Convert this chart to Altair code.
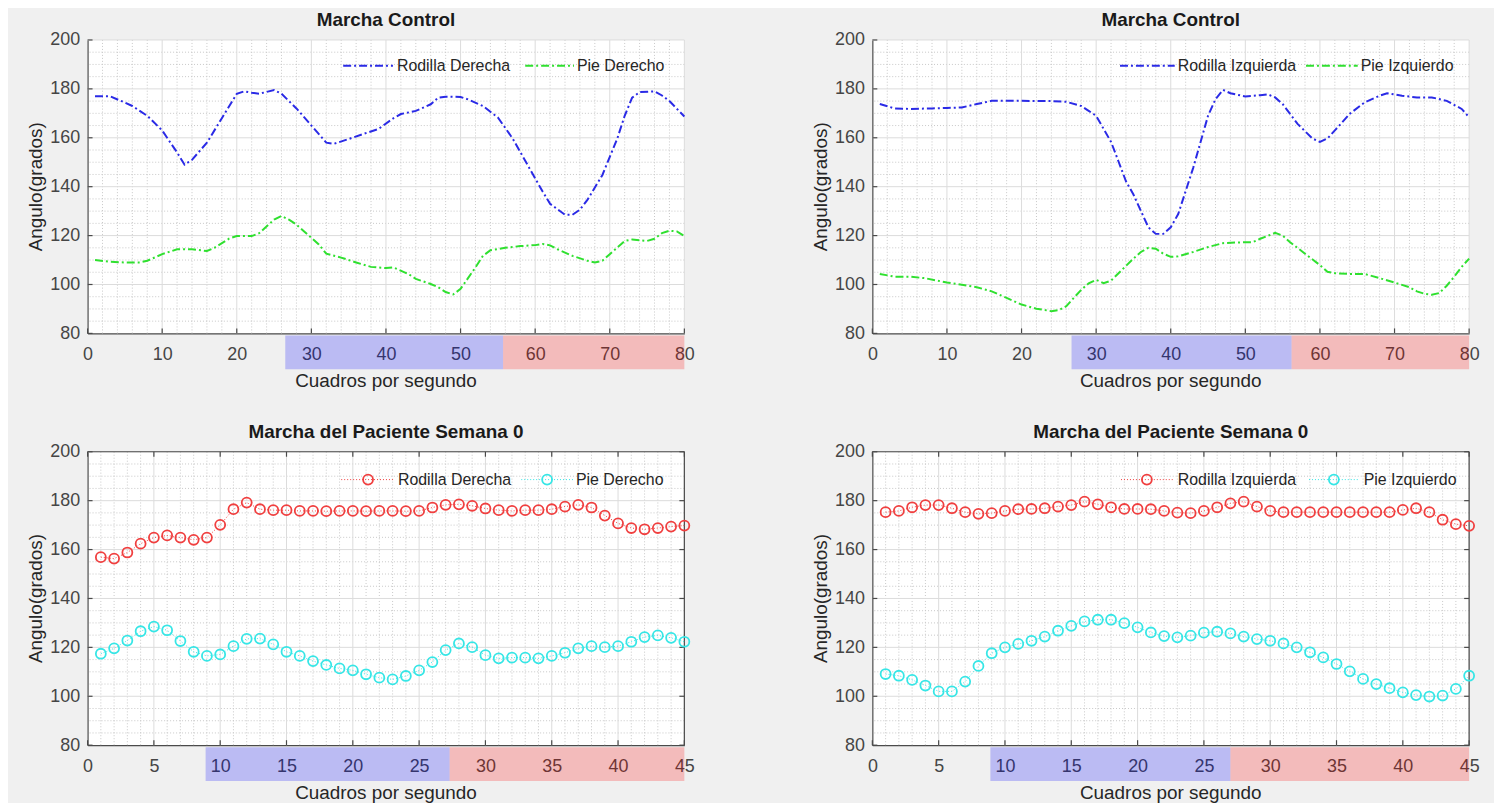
import altair as alt
import pandas as pd

# ---------------- data ----------------
TL_KNEE_X = [1, 3, 5, 6, 8, 10, 12, 13, 14, 16, 18, 20, 21, 22, 23, 25, 26, 28, 30, 32,
             33, 35, 37, 39, 41, 42, 44, 46, 47, 48, 50, 51, 53, 55, 56, 57, 59, 61, 62, 64,
             65, 66, 67, 69, 71, 72, 73, 74, 76, 77, 78, 80]
TL_KNEE_Y = [177, 177, 174.4, 173, 169, 163, 154, 149, 151, 158, 168, 178, 179, 178.4, 178, 179.5, 178, 172, 165, 158,
             157.5, 159.5, 161.6, 163.6, 168, 169.7, 171, 173.7, 176.4, 176.8, 176.7, 175.7, 173, 168.3, 164, 159.6, 148.8, 138, 133, 128.5,
             128.5, 130.6, 134.6, 144.7, 159.6, 169, 176.4, 178.7, 179, 177.3, 175, 168.7]
TL_FOOT_X = [1, 3, 5, 7, 8, 10, 12, 14, 16, 17, 19, 20, 22, 23, 25, 26, 27, 28, 29, 31,
             32, 34, 36, 38, 40, 41, 43, 44, 46, 47, 48, 49, 50, 52, 53, 54, 56, 58, 60, 61,
             62, 63, 65, 67, 68, 69, 70, 72, 73, 75, 76, 77, 78, 79, 80]
TL_FOOT_Y = [110, 109.3, 109, 109, 109.7, 112.4, 114.4, 114.4, 113.7, 115, 118.8, 119.8, 119.8, 121, 126.5, 128, 126.5, 124.5, 121.8, 116.4,
             112.6, 111, 109, 107.2, 106.7, 107, 104.3, 102.3, 100.2, 98.9, 96.9, 95.9, 98.2, 107, 111.7, 114, 115, 115.7, 116.1, 116.6,
             116, 114.4, 111.7, 109.7, 109, 109.7, 112.4, 117.8, 118.4, 117.8, 118.7, 121, 122, 121.7, 119.8]

TR_KNEE_X = [1, 3, 5, 8, 10, 12, 14, 16, 20, 24, 26, 28, 29, 30, 32, 33, 34, 35, 36, 37,
             38, 39, 40, 41, 42, 43, 44, 45, 46, 47, 48, 50, 52, 53, 54, 55, 57, 59, 60, 61,
             62, 64, 66, 68, 69, 71, 73, 75, 77, 79, 80]
TR_KNEE_Y = [173.8, 172, 171.8, 172, 172.2, 172.4, 173.8, 175.1, 175.1, 175, 174.7, 173, 171, 169, 158.3, 150.3, 142.2, 136.8, 130.1, 123.4,
             120.7, 120.7, 123.4, 128.8, 138.2, 147.6, 158.3, 169, 175.8, 179.6, 178.2, 176.9, 177.4, 177.8, 176.5, 173.8, 165.7, 159.7, 158.3, 159.7,
             163, 169.8, 174.5, 177.2, 178.2, 177.2, 176.5, 176.5, 175.1, 171.8, 168.4]
TR_FOOT_X = [1, 3, 5, 7, 10, 12, 14, 16, 18, 20, 22, 24, 25, 26, 27, 28, 29, 30, 31, 32,
             33, 35, 36, 37, 38, 39, 40, 41, 43, 45, 47, 49, 51, 52, 54, 55, 56, 58, 60, 61,
             62, 64, 66, 68, 70, 72, 73, 74, 75, 76, 77, 78, 79, 80]
TR_FOOT_Y = [104.3, 103.2, 103.2, 102.6, 100.8, 99.9, 98.9, 97.2, 94.5, 91.8, 90.1, 89.1, 89.5, 91.1, 94.5, 97.8, 100.5, 101.9, 100.5, 101.6,
             104.6, 110.6, 113.3, 115, 114.6, 112.6, 111.3, 111.5, 113.3, 115.3, 116.9, 117.2, 117.3, 118.7, 121.1, 120, 117.3, 112.6, 107.9, 105.2,
             104.6, 104.3, 104.3, 102.6, 100.8, 98.9, 97.2, 96.2, 95.8, 96.5, 99.5, 103.2, 107.2, 110.6]

FRAMES_45 = [1, 2, 3, 4, 5, 6, 7, 8, 9, 10, 11, 12, 13, 14, 15, 16, 17, 18, 19, 20, 21, 22, 23,
             24, 25, 26, 27, 28, 29, 30, 31, 32, 33, 34, 35, 36, 37, 38, 39, 40, 41, 42, 43, 44, 45]
BL_KNEE = [156.9, 156.3, 158.8, 162.4, 164.9, 165.8, 164.9, 164, 164.9, 170.1,
           176.5, 179.2, 176.5, 176.1, 176.1, 175.8, 175.8, 175.7, 175.8, 175.8,
           175.7, 175.8, 175.8, 175.7, 175.8, 177.2, 178.3, 178.5, 177.9, 176.8,
           176.1, 175.8, 176.1, 176.1, 176.5, 177.6, 178.3, 177.2, 173.9, 170.7,
           168.8, 168.3, 168.8, 169.4, 169.8]
BL_FOOT = [117.4, 119.6, 122.8, 126.6, 128.5, 127, 122.6, 118.2, 116.5, 117.1,
           120.5, 123.5, 123.6, 121.2, 118.2, 116.5, 114.4, 112.8, 111.4, 110.6,
           109, 107.6, 106.9, 108.3, 110.6, 114, 118.9, 121.6, 120.1, 116.8,
           115.5, 115.8, 115.8, 115.5, 116.5, 117.8, 119.6, 120.5, 120.1, 120.5,
           122.3, 124.2, 124.9, 123.9, 122.3]
BR_KNEE = [175.3, 175.8, 177.3, 178.2, 178.2, 176.9, 175.3, 174.6, 174.9, 175.8,
           176.5, 176.6, 176.9, 177.6, 178.2, 179.6, 178.5, 177.3, 176.6, 176.6,
           176.5, 175.8, 175.1, 174.9, 175.8, 177.3, 178.9, 179.6, 177.6, 175.8,
           175.3, 175.3, 175.3, 175.3, 175.3, 175.3, 175.3, 175.3, 175.3, 176.2,
           176.9, 175.3, 172.2, 170.4, 169.7]
BR_FOOT = [109.1, 108.4, 106.7, 104.4, 102, 102, 106, 112.4, 117.6, 120,
           121.4, 122.7, 124.4, 126.8, 128.8, 130.6, 131.3, 131.3, 129.9, 128.2,
           126.1, 124.6, 124.1, 124.8, 126, 126.4, 125.7, 124.4, 123.4, 122.7,
           121.6, 120, 118, 115.9, 113.2, 110.2, 107.1, 105, 103.3, 101.6,
           100.5, 99.9, 100.3, 103, 108.4]

TITLE_CONTROL = "Marcha Control"
TITLE_PATIENT = "Marcha del Paciente Semana 0"
X_TITLE = "Cuadros por segundo"
Y_TITLE = "Angulo(grados)"
LEG_RIGHT = ["Rodilla Derecha", "Pie Derecho"]
LEG_LEFT = ["Rodilla Izquierda", "Pie Izquierdo"]

Y_TICKS = [80, 100, 120, 140, 160, 180, 200]
Y_MINOR = [85, 90, 95, 105, 110, 115, 125, 130, 135, 145, 150, 155, 165, 170, 175, 185, 190, 195]
X_TICKS_80 = [0, 10, 20, 30, 40, 50, 60, 70, 80]
X_MINOR_80 = [2, 4, 6, 8, 12, 14, 16, 18, 22, 24, 26, 28, 32, 34, 36, 38, 42, 44, 46, 48,
              52, 54, 56, 58, 62, 64, 66, 68, 72, 74, 76, 78]
X_TICKS_45 = [0, 5, 10, 15, 20, 25, 30, 35, 40, 45]
X_MINOR_45 = [1, 2, 3, 4, 6, 7, 8, 9, 11, 12, 13, 14, 16, 17, 18, 19, 21, 22, 23, 24,
              26, 27, 28, 29, 31, 32, 33, 34, 36, 37, 38, 39, 41, 42, 43, 44]

# phase bands under the x axis: [blue start, red start, end]
BANDS_TL = [26.5, 55.7, 80]
BANDS_TR = [26.7, 56.2, 80]
BANDS_BL = [8.9, 27.3, 45]
BANDS_BR = [8.9, 27.0, 45]

# ---------------- style ----------------
W, H = 600, 295
FONT = "Liberation Sans"
LBL = "#454545"
AXC = "#4a4a4a"
BLUE = "#2a2ae6"
GREEN = "#2fe02f"
RED = "#f03f3f"
CYAN = "#36e6e6"
MAJOR = "#dcdcdc"
MINOR = "#c8c8c8"
DASHDOT = [8, 3, 2, 3]
PT_SIZE = 100

one = pd.DataFrame({"k": [0]})


def panel(title, xmax, xticks, xminor, series, bands, labels, kind, leg, box, anchor=False):
    xsc = alt.Scale(domain=[0, xmax], nice=False, zero=False)
    ysc = alt.Scale(domain=[80, 200], nice=False, zero=False)
    xaxis = alt.Axis(values=xticks, title=None, grid=False, ticks=False,
                     domainColor=AXC, domainWidth=1.2, labelFont=FONT, labelFontSize=18,
                     labelColor=LBL, labelPadding=12, labelFlush=False, labelOverlap=False)
    yaxis = alt.Axis(values=Y_TICKS, title=None, grid=False, ticks=False,
                     domainColor=AXC, domainWidth=1.2, labelFont=FONT, labelFontSize=18,
                     labelColor=LBL, labelPadding=8, labelFlush=False, labelOverlap=False)

    def X(field):
        return alt.X(field, scale=xsc, axis=xaxis)

    def Y(field):
        return alt.Y(field, scale=ysc, axis=yaxis)

    layers = []
    if anchor:
        layers.append(alt.Chart(one).mark_rect(opacity=0).encode(
            x=alt.value(-80), x2=alt.value(-80 + 1494), y=alt.value(-30), y2=alt.value(-30 + 795)))
    # grid
    layers.append(alt.Chart(pd.DataFrame({"v": xminor})).mark_rule(
        color=MINOR, strokeDash=[1, 2], strokeWidth=1).encode(x=X("v:Q")))
    layers.append(alt.Chart(pd.DataFrame({"v": Y_MINOR})).mark_rule(
        color=MINOR, strokeDash=[1, 2], strokeWidth=1).encode(y=Y("v:Q")))
    layers.append(alt.Chart(pd.DataFrame({"v": [t for t in xticks if t != 0]})).mark_rule(
        color=MAJOR, strokeWidth=1).encode(x=X("v:Q")))
    layers.append(alt.Chart(pd.DataFrame({"v": [t for t in Y_TICKS if t != 80]})).mark_rule(
        color=MAJOR, strokeWidth=1).encode(y=Y("v:Q")))
    # inward ticks
    layers.append(alt.Chart(pd.DataFrame({"v": xticks})).mark_rule(color=AXC, strokeWidth=1.2).encode(
        x=X("v:Q"), y=alt.value(H), y2=alt.value(H - 5)))
    layers.append(alt.Chart(pd.DataFrame({"v": Y_TICKS})).mark_rule(color=AXC, strokeWidth=1.2).encode(
        y=Y("v:Q"), x=alt.value(0), x2=alt.value(5)))
    if box:
        layers.append(alt.Chart(one).mark_rule(color=AXC, strokeWidth=1.2).encode(
            x=alt.value(0), x2=alt.value(W), y=alt.value(0)))
        layers.append(alt.Chart(one).mark_rule(color=AXC, strokeWidth=1.2).encode(
            x=alt.value(W), y=alt.value(0), y2=alt.value(H)))
        layers.append(alt.Chart(pd.DataFrame({"v": xticks})).mark_rule(color=AXC, strokeWidth=1.2).encode(
            x=X("v:Q"), y=alt.value(0), y2=alt.value(5)))
        layers.append(alt.Chart(pd.DataFrame({"v": Y_TICKS})).mark_rule(color=AXC, strokeWidth=1.2).encode(
            y=Y("v:Q"), x=alt.value(W), x2=alt.value(W - 5)))
    # data
    for xs, ys, color in series:
        df = pd.DataFrame({"x": xs, "y": ys})
        enc = dict(x=X("x:Q"), y=Y("y:Q"))
        if kind == "line":
            layers.append(alt.Chart(df).mark_line(color=color, strokeWidth=2, strokeDash=DASHDOT).encode(**enc))
        else:
            layers.append(alt.Chart(df).mark_line(color=color, strokeWidth=1, strokeDash=[1, 2]).encode(**enc))
            layers.append(alt.Chart(df).mark_point(shape="circle", filled=False, color=color, size=PT_SIZE,
                                                   strokeWidth=1.8, opacity=1).encode(**enc))
    # phase bands (translucent overlay on the tick labels)
    bdf = pd.DataFrame({"a": [bands[0], bands[1]], "b": [bands[1], bands[2]], "c": ["#0000ff", "#ff0000"]})
    layers.append(alt.Chart(bdf).mark_rect(opacity=0.22).encode(
        x=X("a:Q"), x2="b:Q", y=alt.value(H + 2), y2=alt.value(H + 36),
        color=alt.Color("c:N", scale=None)))
    # legend
    ly = leg["y"]
    for i, (lab, (_, _, color)) in enumerate(zip(labels, series)):
        x0, x1, tx = leg["s"][i]
        if kind == "line":
            layers.append(alt.Chart(one).mark_rule(color=color, strokeWidth=2, strokeDash=DASHDOT).encode(
                x=alt.value(x0), x2=alt.value(x1), y=alt.value(ly)))
        else:
            layers.append(alt.Chart(one).mark_rule(color=color, strokeWidth=1, strokeDash=[1, 2]).encode(
                x=alt.value(x0), x2=alt.value(x1), y=alt.value(ly)))
            layers.append(alt.Chart(one).mark_point(shape="circle", filled=False, color=color, size=PT_SIZE,
                                                    strokeWidth=1.8, opacity=1).encode(
                x=alt.value((x0 + x1) / 2), y=alt.value(ly)))
        layers.append(alt.Chart(one).mark_text(font=FONT, fontSize=16, color="#262626", align="left",
                                               baseline="middle").encode(
            x=alt.value(tx), y=alt.value(ly), text=alt.value(lab)))
    # titles
    layers.append(alt.Chart(one).mark_text(font=FONT, fontSize=19, fontWeight="bold", color="#1a1a1a",
                                           align="center", baseline="middle").encode(
        x=alt.value(W / 2), y=alt.value(-20), text=alt.value(title)))
    layers.append(alt.Chart(one).mark_text(font=FONT, fontSize=19, color="#262626",
                                           align="center", baseline="middle").encode(
        x=alt.value(W / 2), y=alt.value(H + 48), text=alt.value(X_TITLE)))
    layers.append(alt.Chart(one).mark_text(font=FONT, fontSize=19, color="#262626", angle=270,
                                           align="center", baseline="middle").encode(
        x=alt.value(-52), y=alt.value(H / 2), text=alt.value(Y_TITLE)))
    return alt.layer(*layers).properties(width=W, height=H)


tl = panel(TITLE_CONTROL, 80, X_TICKS_80, X_MINOR_80,
           [(TL_KNEE_X, TL_KNEE_Y, BLUE), (TL_FOOT_X, TL_FOOT_Y, GREEN)], BANDS_TL, LEG_RIGHT, "line",
           {"y": 26, "s": [(257, 307, 311), (440, 489, 492)]}, box=False, anchor=True)
tr = panel(TITLE_CONTROL, 80, X_TICKS_80, X_MINOR_80,
           [(TR_KNEE_X, TR_KNEE_Y, BLUE), (TR_FOOT_X, TR_FOOT_Y, GREEN)], BANDS_TR, LEG_LEFT, "line",
           {"y": 26, "s": [(249, 304, 307), (436, 488, 491)]}, box=False)
bl = panel(TITLE_PATIENT, 45, X_TICKS_45, X_MINOR_45,
           [(FRAMES_45, BL_KNEE, RED), (FRAMES_45, BL_FOOT, CYAN)], BANDS_BL, LEG_RIGHT, "points",
           {"y": 28, "s": [(255, 309, 312), (436, 488, 491)]}, box=True)
br = panel(TITLE_PATIENT, 45, X_TICKS_45, X_MINOR_45,
           [(FRAMES_45, BR_KNEE, RED), (FRAMES_45, BR_FOOT, CYAN)], BANDS_BR, LEG_LEFT, "points",
           {"y": 28, "s": [(250, 302, 307), (439, 489, 494)]}, box=True)

chart = alt.concat(
    tl, tr, bl, br, columns=2,
    spacing={"row": 119, "column": 189}, bounds="flush",
).properties(padding=0, background="#f0f0f0").configure_view(fill="white", stroke=None)

chart.save("out.html", embed_options={"renderer": "svg", "actions": False})
